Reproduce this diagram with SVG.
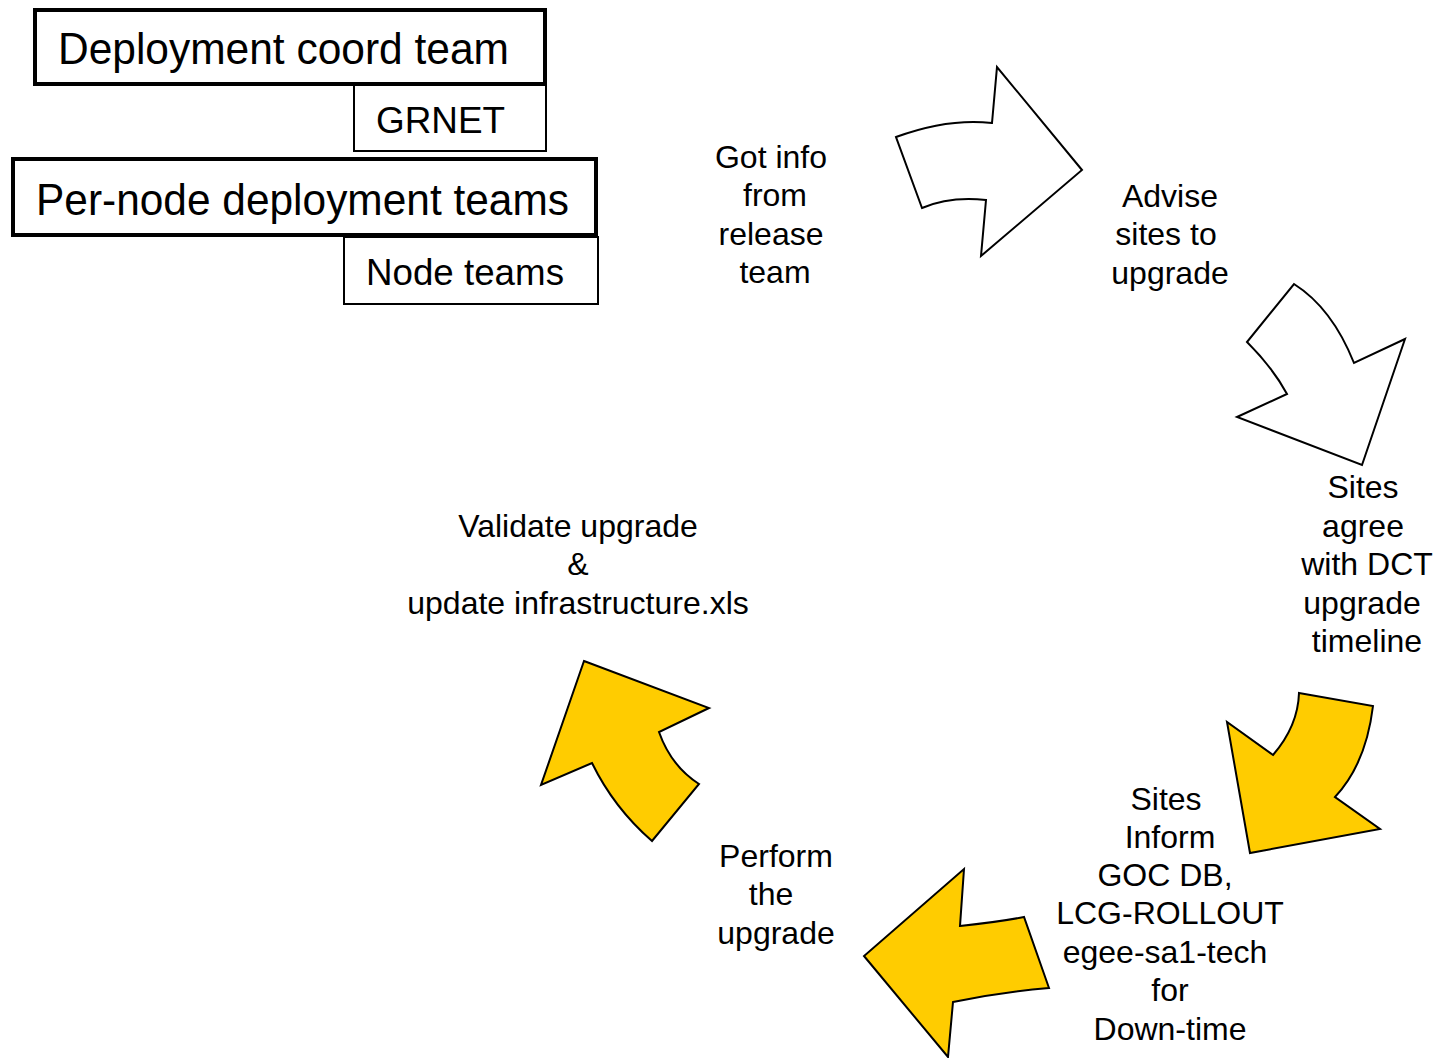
<svg xmlns="http://www.w3.org/2000/svg" width="1436" height="1058" viewBox="0 0 1436 1058">
<style>
text{font-family:"Liberation Sans",Arial,sans-serif;fill:#000}
.h{font-size:44px}
.s{font-size:37px}
.l{font-size:32px;text-anchor:middle}
.thick{fill:#fff;stroke:#000;stroke-width:4}
.thin{fill:#fff;stroke:#000;stroke-width:2}
.aw{fill:#fff;stroke:#000;stroke-width:2;stroke-linejoin:miter}
.ay{fill:#FFCC00;stroke:#000;stroke-width:2;stroke-linejoin:miter}
</style>
<rect width="1436" height="1058" fill="#fff"/>
<g id="box-dct">
<rect class="thick" x="35" y="10" width="510" height="74"/>
<text class="h" x="58" y="64" textLength="451" lengthAdjust="spacingAndGlyphs">Deployment coord team</text>
</g>
<g id="box-grnet">
<rect class="thin" x="354" y="85" width="192" height="66"/>
<text class="s" x="376" y="133" textLength="129" lengthAdjust="spacingAndGlyphs">GRNET</text>
</g>
<g id="box-pernode">
<rect class="thick" x="13" y="159" width="583" height="76"/>
<text class="h" x="36" y="215" textLength="533" lengthAdjust="spacingAndGlyphs">Per-node deployment teams</text>
</g>
<g id="box-nodeteams">
<rect class="thin" x="344" y="237" width="254" height="67"/>
<text class="s" x="366" y="285" textLength="198" lengthAdjust="spacingAndGlyphs">Node teams</text>
</g>
<g id="connectors">
<path id="arrow1" class="aw" d="M896,137 Q948,118 992,123 L997,67 L1082,170 L981,256 L986,200 Q950,196 922,208 Z"/>
<path id="arrow2" class="aw" d="M1294,284 Q1332,308 1354,363 L1405,339 L1362,465 L1237,417 L1287,394 Q1273,368 1247,342 Z"/>
<path id="arrow3" class="ay" d="M1299,693 L1373,706 Q1366,764 1335,797 L1380,829 L1250,853 L1227,722 L1273,755 Q1298,726 1299,693 Z"/>
<path id="arrow4" class="ay" d="M964,869 L960,926 Q998,922 1024,917 L1049,988 Q1000,992 953,1002 L948,1057 L864,956 Z"/>
<path id="arrow5" class="ay" d="M584,661 L709,708 L659,732 Q671,766 699,784 L652,841 Q614,808 592,763 L541,785 Z"/>
</g>
<g id="step-got-info">
<text class="l" x="771" y="168">Got info</text>
<text class="l" x="775" y="206">from</text>
<text class="l" x="771" y="245">release</text>
<text class="l" x="775" y="283">team</text>
</g>
<g id="step-advise">
<text class="l" x="1170" y="207">Advise</text>
<text class="l" x="1166" y="245">sites to</text>
<text class="l" x="1170" y="284">upgrade</text>
</g>
<g id="step-agree">
<text class="l" x="1363" y="498">Sites</text>
<text class="l" x="1363" y="537">agree</text>
<text class="l" x="1367" y="575">with DCT</text>
<text class="l" x="1362" y="614">upgrade</text>
<text class="l" x="1367" y="652">timeline</text>
</g>
<g id="step-inform">
<text class="l" x="1166" y="810">Sites</text>
<text class="l" x="1170" y="848">Inform</text>
<text class="l" x="1165" y="886">GOC DB,</text>
<text class="l" x="1170" y="924">LCG-ROLLOUT</text>
<text class="l" x="1165" y="963">egee-sa1-tech</text>
<text class="l" x="1170" y="1001">for</text>
<text class="l" x="1170" y="1040">Down-time</text>
</g>
<g id="step-perform">
<text class="l" x="776" y="867">Perform</text>
<text class="l" x="771" y="905">the</text>
<text class="l" x="776" y="944">upgrade</text>
</g>
<g id="step-validate">
<text class="l" x="578" y="537">Validate upgrade</text>
<text class="l" x="578" y="575">&amp;</text>
<text class="l" x="578" y="614">update infrastructure.xls</text>
</g>
</svg>
